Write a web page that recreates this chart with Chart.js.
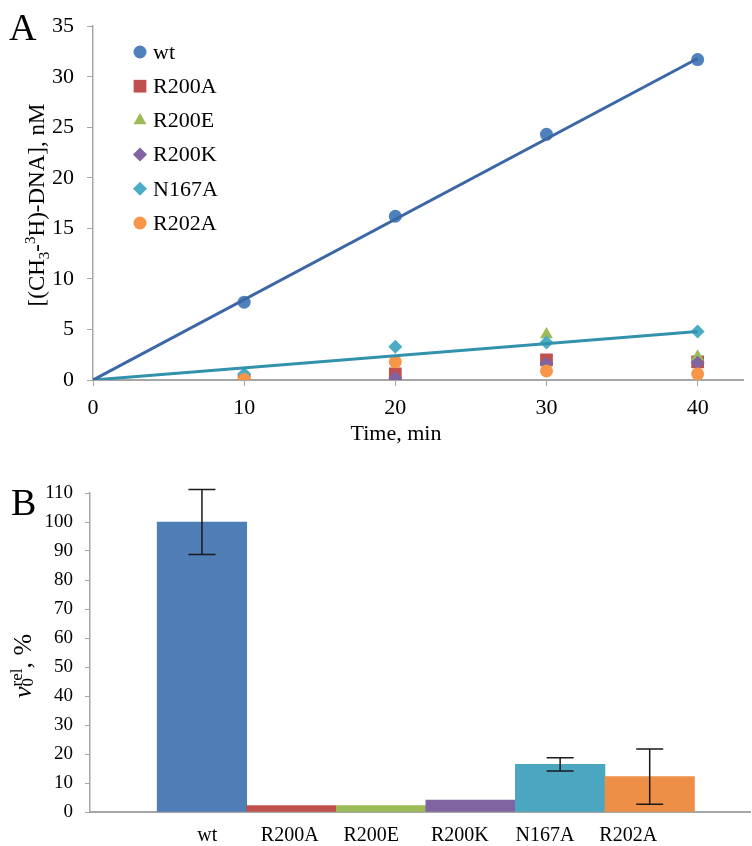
<!DOCTYPE html>
<html>
<head>
<meta charset="utf-8">
<script src="https://cdn.jsdelivr.net/npm/chart.js@4.4.1/dist/chart.umd.min.js"></script>
<style>
  html, body { margin: 0; padding: 0; background: #fff; }
  canvas { display: block; }
</style>
</head>
<body>
<canvas id="rateChart" width="752" height="460"></canvas>
<canvas id="relChart" width="752" height="386"></canvas>
<script>
// ── DATA: panel A (time course) ───────────────────
const timeMin   = [10, 20, 30, 40];
const wtVals    = [7.7, 16.2, 24.3, 31.7];
const r200aVals = [0, 0.6, 2.0, 1.8];
const r200eVals = [0, 0, 4.5, 2.3];
const r200kVals = [0, 0.2, 1.6, 1.7];
const n167aVals = [0.6, 3.3, 3.7, 4.8];
const r202aVals = [0.05, 1.8, 0.9, 0.6];

const fitTime   = [0, 40];
const wtFit     = [0, 31.8];
const n167aFit  = [0, 4.8];

const timeTicks = [0, 10, 20, 30, 40];
const concTicks = [0, 5, 10, 15, 20, 25, 30, 35];

// ── DATA: panel B (relative rates) ────────────────
const mutants   = ['wt', 'R200A', 'R200E', 'R200K', 'N167A', 'R202A'];
const relRates  = [100, 2.2, 2.2, 4.1, 16.4, 12.2];
const relErrors = [11.2, 0, 0, 0, 2.3, 9.5];
const relTicks  = [0, 10, 20, 30, 40, 50, 60, 70, 80, 90, 100, 110];

// ── STYLE / LAYOUT ────────────────────────────────
const SERIF = "'Liberation Serif', 'Times New Roman', serif";
const AXIS_GREY = '#a6a6a6';
const COLORS = {
  wt:    '#4f81bd',
  R200A: '#c0504d',
  R200E: '#9bbb59',
  R200K: '#8064a2',
  N167A: '#4bacc6',
  R202A: '#f79646',
};
const BAR_COLORS = ['#4f7db5', '#c0504d', '#9bbb59', '#8064a2', '#4ba6c2', '#ee8f48'];
// the category names under panel B sit a little left of the bar centres
const LABEL_SLOTS_B = [0.06, 0.98, 1.89, 2.88, 3.83, 4.76];

Chart.defaults.font.family = SERIF;
Chart.defaults.color = '#000';

function points(xs, ys) {
  return xs.map((x, i) => ({ x, y: ys[i] }));
}

function fixedTicks(values) {
  return scale => { scale.ticks = values.map(v => ({ value: v })); };
}

// draws a line of text made of parts (sub/superscripts), centred on (cx, cy)
function drawRich(ctx, parts, cx, cy, vertical) {
  ctx.save();
  ctx.translate(cx, cy);
  if (vertical) ctx.rotate(-Math.PI / 2);
  ctx.textBaseline = 'alphabetic';
  ctx.textAlign = 'left';
  ctx.fillStyle = '#000';
  const fontOf = p => `${p.italic ? 'italic ' : ''}${p.size}px ${SERIF}`;
  let total = 0;
  parts.forEach(p => {
    ctx.font = fontOf(p);
    if (!p.stack) total += ctx.measureText(p.text).width;
  });
  let x = -total / 2;
  parts.forEach(p => {
    ctx.font = fontOf(p);
    ctx.fillText(p.text, x, p.dy || 0);
    if (!p.stack) x += ctx.measureText(p.text).width;
  });
  ctx.restore();
}

// ── PANEL A ───────────────────────────────────────
function scatterSet(label, vals, style, radius, order) {
  return {
    label,
    data: points(timeMin, vals),
    pointStyle: style,
    pointRadius: radius,
    pointHoverRadius: radius,
    backgroundColor: COLORS[label],
    borderColor: COLORS[label],
    borderWidth: 0,
    showLine: false,
    order,
  };
}

function fitSet(label, vals, color) {
  return {
    label,
    data: points(fitTime, vals),
    showLine: true,
    borderColor: color,
    borderWidth: 3,
    pointRadius: 0,
    fill: false,
    order: 0,
    isFit: true,
  };
}

const legendInside = {
  id: 'legendInside',
  afterDraw(chart) {
    const ctx = chart.ctx;
    chart.data.datasets.filter(d => !d.isFit).forEach((d, i) => {
      const y = 52 + i * 34.2;
      ctx.save();
      ctx.fillStyle = d.backgroundColor;
      ctx.strokeStyle = d.backgroundColor;
      Chart.helpers.drawPoint(ctx, {
        pointStyle: d.pointStyle, radius: d.pointRadius, rotation: 0, borderWidth: 0,
      }, 140, y);
      ctx.fillStyle = '#000';
      ctx.font = `22px ${SERIF}`;
      ctx.textBaseline = 'middle';
      ctx.fillText(d.label, 153, y + 1);
      ctx.restore();
    });
  },
};

const textA = {
  id: 'textA',
  afterDraw(chart) {
    const ctx = chart.ctx;
    ctx.save();
    ctx.fillStyle = '#000';
    ctx.font = `38px ${SERIF}`;
    ctx.textBaseline = 'alphabetic';
    ctx.fillText('A', 9, 40);
    ctx.font = `22px ${SERIF}`;
    ctx.textAlign = 'center';
    ctx.fillText('Time, min', 396, 440);
    ctx.restore();
    drawRich(ctx, [
      { text: '[(CH', size: 23 },
      { text: '3', size: 15, dy: 5 },
      { text: '-', size: 23 },
      { text: '3', size: 15, dy: -9 },
      { text: 'H)-DNA], nM', size: 23 },
    ], 44, 205, true);
  },
};

new Chart(document.getElementById('rateChart'), {
  type: 'scatter',
  data: {
    datasets: [
      scatterSet('wt',    wtVals,    'circle',   6.5, 7),
      scatterSet('R200A', r200aVals, 'rect',     9,   6),
      scatterSet('R200E', r200eVals, 'triangle', 7.5, 5),
      scatterSet('R200K', r200kVals, 'rectRot',  7,   4),
      scatterSet('N167A', n167aVals, 'rectRot',  7,   3),
      scatterSet('R202A', r202aVals, 'circle',   6.5, 2),
      fitSet('wt fit',    wtFit,    '#3c67a6'),
      fitSet('N167A fit', n167aFit, '#3392ab'),
    ],
  },
  options: {
    responsive: false,
    animation: false,
    devicePixelRatio: 1,
    layout: { padding: { top: 23, right: 8, left: 0, bottom: 0 } },
    plugins: { legend: { display: false }, tooltip: { enabled: false } },
    scales: {
      x: {
        type: 'linear',
        min: 0, max: 43,
        afterBuildTicks: fixedTicks(timeTicks),
        afterFit: s => { s.height = 80; },
        grid: { drawOnChartArea: false, tickLength: 6, color: AXIS_GREY },
        border: { color: AXIS_GREY, width: 2 },
        ticks: { font: { size: 22 }, color: '#000', padding: 9, maxRotation: 0 },
      },
      y: {
        min: 0, max: 35,
        afterBuildTicks: fixedTicks(concTicks),
        afterFit: s => { s.width = 93; },
        grid: { drawOnChartArea: false, tickLength: 6, color: AXIS_GREY },
        border: { color: AXIS_GREY, width: 1.5 },
        ticks: { font: { size: 22 }, color: '#000', padding: 13 },
      },
    },
  },
  plugins: [legendInside, textA],
});

// ── PANEL B ───────────────────────────────────────
const errorBars = {
  id: 'errorBars',
  afterDatasetsDraw(chart) {
    const { ctx, scales: { x, y } } = chart;
    ctx.save();
    ctx.strokeStyle = '#1a1a1a';
    ctx.lineWidth = 1.5;
    relErrors.forEach((e, i) => {
      if (!e) return;
      const px = x.getPixelForValue(i);
      const top = y.getPixelForValue(relRates[i] + e);
      const bot = y.getPixelForValue(relRates[i] - e);
      ctx.beginPath();
      ctx.moveTo(px, top); ctx.lineTo(px, bot);
      ctx.moveTo(px - 13.5, top); ctx.lineTo(px + 13.5, top);
      ctx.moveTo(px - 13.5, bot); ctx.lineTo(px + 13.5, bot);
      ctx.stroke();
    });
    ctx.restore();
  },
};

const textB = {
  id: 'textB',
  afterDraw(chart) {
    const ctx = chart.ctx;
    const x = chart.scales.x;
    ctx.save();
    ctx.fillStyle = '#000';
    ctx.font = `38px ${SERIF}`;
    ctx.textBaseline = 'alphabetic';
    ctx.fillText('B', 11, 55);
    // category names
    ctx.font = `20px ${SERIF}`;
    ctx.textAlign = 'center';
    ctx.textBaseline = 'middle';
    mutants.forEach((m, i) => {
      ctx.fillText(m, x.getPixelForValue(LABEL_SLOTS_B[i]), x.bottom - 10);
    });
    ctx.restore();
    drawRich(ctx, [
      { text: 'v', size: 26, italic: true },
      { text: '0', size: 17, dy: 2, stack: true },
      { text: 'rel', size: 17, dy: -9 },
      { text: ', %', size: 26 },
    ], 31, 206, true);
  },
};

new Chart(document.getElementById('relChart'), {
  type: 'bar',
  data: {
    datasets: [{
      label: 'v0 rel',
      data: mutants.map((m, i) => ({ x: i, y: relRates[i] })),
      backgroundColor: BAR_COLORS,
      borderWidth: 0,
      barPercentage: 1,
      categoryPercentage: 1,
    }],
  },
  options: {
    responsive: false,
    animation: false,
    devicePixelRatio: 1,
    layout: { padding: { top: 33, right: 2, left: 0, bottom: 0 } },
    plugins: { legend: { display: false }, tooltip: { enabled: false } },
    scales: {
      x: {
        type: 'linear',
        offset: false,
        min: -1.25, max: 6.12,
        afterBuildTicks: fixedTicks(mutants.map((m, i) => i)),
        afterFit: s => { s.height = 34; },
        grid: { drawOnChartArea: false, drawTicks: false, offset: false, color: AXIS_GREY },
        border: { color: AXIS_GREY, width: 2 },
        ticks: { display: false },
      },
      y: {
        min: 0, max: 110,
        afterBuildTicks: fixedTicks(relTicks),
        afterFit: s => { s.width = 90; },
        grid: { drawOnChartArea: false, tickLength: 5, color: AXIS_GREY },
        border: { color: AXIS_GREY, width: 1.5 },
        ticks: { font: { size: 19 }, color: '#000', padding: 12 },
      },
    },
  },
  plugins: [errorBars, textB],
});
</script>
</body>
</html>
